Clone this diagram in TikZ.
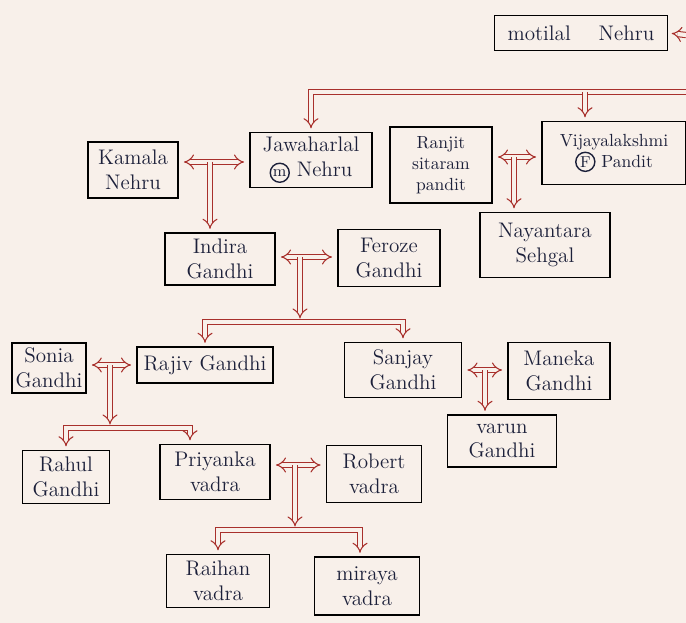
\documentclass[tikz,border=0pt]{standalone}
\usepackage{tikz}
\usetikzlibrary{arrows.meta,calc}
\definecolor{kinred}{RGB}{168,48,44}
\definecolor{inkblue}{RGB}{28,32,58}
\definecolor{paper}{RGB}{248,240,234}
\newcommand{\ringed}[1]{\tikz[baseline=(rg.base)]\node[circle, draw, thick, minimum size=0pt, inner sep=0.8pt, font=\small] (rg) {#1};}
\tikzset{
    person/.style={rectangle, draw=black, thick, align=center, font=\large, text=inkblue, inner sep=2pt},
    bar/.style={draw=kinred, double=paper, double distance=2.4pt, line width=0.6pt},
    descent/.style={bar, -{Implies[length=4pt,width=9pt]}, shorten >=2pt},
    spouse/.style={bar, {Implies[length=5pt,width=13pt]}-{Implies[length=5pt,width=13pt]}, shorten <=3pt, shorten >=3pt},
}

\begin{document}
\begin{tikzpicture}[x=0.2mm,y=-0.2mm]
    \fill[paper] (0,0) rectangle (686,623);
    \useasboundingbox (0,0) rectangle (686,623);

    % first generation
    \node[person, minimum width=34.6mm, minimum height=7mm] (motilal) at (581,33) {motilal \quad Nehru};

    % second generation
    \node[person, minimum width=18mm, minimum height=11.2mm] (kamala) at (133,170) {Kamala\\Nehru};
    \node[person, minimum width=24.4mm, minimum height=11mm] (jawahar) at (311,160) {Jawaharlal\\\ringed{m} Nehru};
    \node[person, minimum width=20.4mm, minimum height=15.2mm, font=\normalsize] (ranjit) at (441,165) {Ranjit\\sitaram\\pandit};
    \node[person, minimum width=28.8mm, minimum height=12.6mm, font=\normalsize] (vijaya) at (614,153) {Vijayalakshmi\\\ringed{F} Pandit};

    % third generation
    \node[person, minimum width=22mm, minimum height=10.4mm] (indira) at (220,259) {Indira\\Gandhi};
    \node[person, minimum width=20.4mm, minimum height=11.4mm] (feroze) at (389,258) {Feroze\\Gandhi};
    \node[person, minimum width=26mm, minimum height=13mm] (nayantara) at (545,245) {Nayantara\\Sehgal};

    % fourth generation
    \node[person, minimum width=13.6mm, minimum height=10mm] (sonia) at (49,368) {Sonia\\Gandhi};
    \node[person, minimum width=27.2mm, minimum height=7.2mm] (rajiv) at (205,365) {Rajiv Gandhi};
    \node[person, minimum width=23.4mm, minimum height=11mm] (sanjay) at (403,370) {Sanjay\\Gandhi};
    \node[person, minimum width=20.4mm, minimum height=11.4mm] (maneka) at (559,371) {Maneka\\Gandhi};

    % fifth generation
    \node[person, minimum width=17.4mm, minimum height=10.6mm] (rahul) at (66,477) {Rahul\\Gandhi};
    \node[person, minimum width=22mm, minimum height=11mm] (priyanka) at (215,472) {Priyanka\\vadra};
    \node[person, minimum width=19mm, minimum height=11.4mm] (robert) at (374,474) {Robert\\vadra};
    \node[person, minimum width=21.8mm, minimum height=10.4mm] (varun) at (502,441) {varun\\Gandhi};

    % sixth generation
    \node[person, minimum width=20.6mm, minimum height=10.6mm] (raihan) at (218,581) {Raihan\\vadra};
    \node[person, minimum width=21mm, minimum height=11.6mm] (miraya) at (367,586) {miraya\\vadra};

    % marriage points and branch bars
    \coordinate (sw) at (686,35);
    \coordinate (t1) at (686,92);
    \coordinate (v1) at (585,92);
    \coordinate (m1) at (210,162);
    \coordinate (m2) at (514,157);
    \coordinate (m3) at (300,257);
    \coordinate (b3) at (300,322);
    \coordinate (m4) at (110,365);
    \coordinate (b4) at (110,428);
    \coordinate (m5) at (485,370);
    \coordinate (m6) at (295,465);
    \coordinate (b6) at (295,530);

    % Nehru line
    \draw[descent] (sw) -- (motilal.east);
    \draw[descent] (t1) -| (jawahar.north);
    \draw[descent] (v1) -- (v1 |- vijaya.north);

    \draw[spouse] (kamala.east |- m1) -- (jawahar.west |- m1);
    \draw[descent] (m1) -- (m1 |- indira.north);

    \draw[spouse] (ranjit.east |- m2) -- (vijaya.west |- m2);
    \draw[descent] (m2) -- (m2 |- nayantara.north);

    % Gandhi line
    \draw[spouse] (indira.east |- m3) -- (feroze.west |- m3);
    \draw[descent] (b3) -| (rajiv.north);
    \draw[descent] (b3) -| (sanjay.north);
    \draw[descent] (m3) -- (b3);

    \draw[spouse] (sonia.east |- m4) -- (rajiv.west |- m4);
    \draw[descent] (b4) -| (rahul.north);
    \draw[descent] (b4) -| ([xshift=-5mm]priyanka.north);
    \draw[descent] (m4) -- (b4);

    \draw[spouse] (sanjay.east |- m5) -- (maneka.west |- m5);
    \draw[descent] (m5) -- (m5 |- varun.north);

    \draw[spouse] (priyanka.east |- m6) -- (robert.west |- m6);
    \draw[descent] (b6) -| (raihan.north);
    \draw[descent] (b6) -| ([xshift=-1.4mm]miraya.north);
    \draw[descent] (m6) -- (b6);
\end{tikzpicture}
\end{document}
